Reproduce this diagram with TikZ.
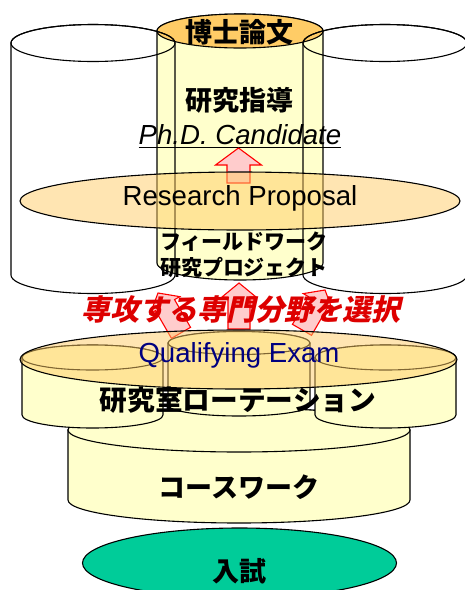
\documentclass[tikz,border=0pt]{standalone}
\usepackage{fontspec}
\setmainfont{Liberation Sans}
\newfontfamily\jp{Noto Sans CJK JP}
\newfontfamily\jpsl{Noto Sans CJK JP}[FakeSlant=0.22]
\definecolor{cylyellow}{HTML}{FFFFCC}
\definecolor{toporange}{HTML}{FFCC66}
\definecolor{arrowpink}{HTML}{FFCCCC}
\definecolor{arrowred}{HTML}{FF0000}
\definecolor{redtext}{HTML}{DD0000}
\definecolor{navytext}{HTML}{000080}
\definecolor{examgreen}{HTML}{00CC99}
\tikzset{
  outl/.style={draw=black, line width=1.1pt},
  arr/.style={draw=arrowred, fill=arrowpink, line width=1.1pt, line join=miter},
  disk/.style={outl, fill=toporange, fill opacity=0.5},
  jb/.style={inner sep=0pt, font=\jp\bfseries\fontsize{27}{30}\selectfont},
  jbs/.style={inner sep=0pt, font=\jp\bfseries\fontsize{21}{25}\selectfont},
  en/.style={inner sep=0pt, font=\fontsize{27.6}{30}\selectfont},
}
% cx, rx, ytop, ybot, ry top, ry bottom, body fill, top fill
\newcommand{\cyl}[8]{%
  \filldraw[outl, fill=#7] (#1-#2,#3) -- (#1-#2,#4)
    arc[start angle=180, end angle=360, x radius=#2pt, y radius=#6pt]
    -- (#1+#2,#3)
    arc[start angle=0, end angle=180, x radius=#2pt, y radius=#5pt] -- cycle;
  \filldraw[outl, fill=#8] (#1,#3) ellipse[x radius=#2pt, y radius=#5pt];
}
% tip x, tip y, rotation, head length, head half width, shaft half width, length
\newcommand{\blockarrow}[7]{%
  \filldraw[arr, shift={(#1,#2)}, rotate=#3] (0,0) -- (#5,#4) -- (#6,#4) -- (#6,#7)
    -- (-#6,#7) -- (-#6,#4) -- (-#5,#4) -- cycle;
}
\begin{document}
\begin{tikzpicture}[x=1pt, y=-1pt]
\useasboundingbox (0,0) rectangle (465,590);
\clip (0,0) rectangle (465,590);

% entrance exam
\filldraw[outl, fill=examgreen] (239.5,563) ellipse[x radius=157pt, y radius=35pt];
\node[jb] (nyushi) at (239.5,571.5) {入試};

% coursework
\cyl{239}{171}{430}{500}{22}{23}{cylyellow}{cylyellow}
\node[jb] (course) at (239,487) {コースワーク};

% lab rotation cylinders
\cyl{92.5}{70.5}{357.5}{415}{12.5}{13}{cylyellow}{cylyellow}
\cyl{385.5}{70.5}{357.5}{415}{12.5}{13}{cylyellow}{cylyellow}
\cyl{239}{71}{343}{405}{11.5}{11}{cylyellow}{cylyellow}

% upper: yellow research cylinder
\cyl{240}{83}{31}{263}{17}{17}{cylyellow}{toporange}
% white side cylinders (outlines)
\cyl{93}{82}{43}{275}{18.5}{18.5}{none}{none}
\cyl{385}{82}{43}{275}{18.5}{18.5}{none}{none}

\node[jb] (hakase) at (239,32) {博士論文};
\node[jb] (shido) at (239,100) {研究指導};
\node[en, font=\itshape\fontsize{27.6}{30}\selectfont] (phd) at (240,135) {Ph.D. Candidate};
\draw[line width=0.9pt] ([yshift=-3pt]phd.base west) -- ([yshift=-3pt]phd.base east);

% arrow to candidate
\blockarrow{238.5}{148}{0}{17}{23}{11.5}{35}

% research proposal
\draw[disk] (240,201) ellipse[x radius=220pt, y radius=29pt];
\node[en] (rp) at (240,198) {Research Proposal};

\node[jbs] (field) at (244,242) {フィールドワーク};
\node[jbs] (proj) at (244,267) {研究プロジェクト};

% selection arrows
\blockarrow{158}{293}{30}{14}{17}{11}{46}
\blockarrow{239}{283}{0}{14}{17}{11}{46}
\blockarrow{325}{290}{-30}{14}{17}{11}{46}

\node[inner sep=0pt, text=redtext, font=\jpsl\bfseries\fontsize{29}{32}\selectfont] (senko) at (241,310) {専攻する専門分野を選択};

% qualifying exam disk
\draw[disk] (238.5,359.5) ellipse[x radius=218.5pt, y radius=29.5pt];
\node[en, text=navytext] (qe) at (239,355) {Qualifying Exam};
\node[jb, font=\jp\bfseries\fontsize{27.7}{30}\selectfont] (rot) at (238,400) {研究室ローテーション};
\end{tikzpicture}
\end{document}
